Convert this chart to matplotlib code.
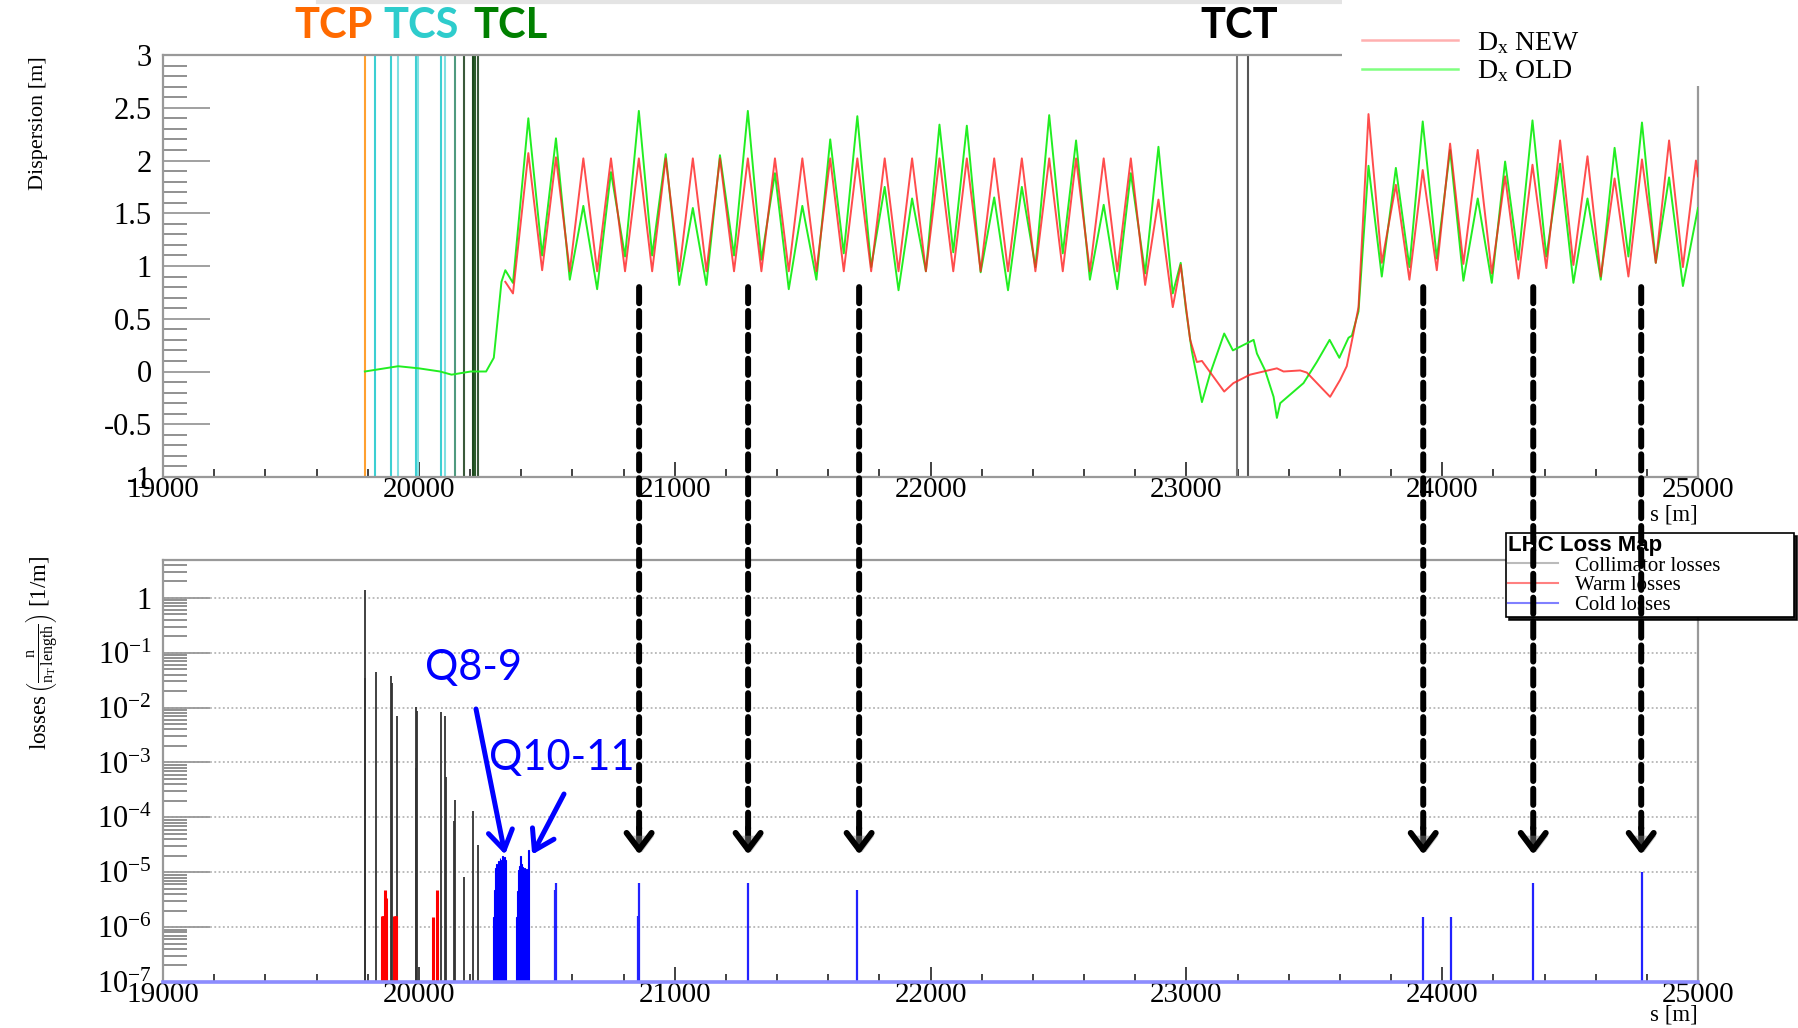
import matplotlib
matplotlib.use("Agg")
import math
import matplotlib.pyplot as plt
from matplotlib.patches import Rectangle, ConnectionPatch
from matplotlib.lines import Line2D
from matplotlib.ticker import MultipleLocator, LogLocator, FuncFormatter, NullFormatter
import matplotlib.patheffects as pe

plt.rcParams['font.family'] = ['Liberation Serif', 'DejaVu Serif']
plt.rcParams['mathtext.fontset'] = 'custom'
plt.rcParams['mathtext.rm'] = 'Liberation Serif'
plt.rcParams['mathtext.it'] = 'Liberation Serif:italic'
plt.rcParams['mathtext.bf'] = 'Liberation Serif:bold'

# ---------------- data: dispersion (top panel) ----------------
s_new = [20338, 20368, 20428, 20482, 20536, 20590, 20643, 20697, 20751, 20806,
         20860, 20912, 20965, 21018, 21071, 21124, 21177, 21232, 21286, 21339,
         21392, 21446, 21499, 21554, 21608, 21661, 21714, 21768, 21821, 21875,
         21928, 21982, 22035, 22089, 22142, 22196, 22249, 22303, 22357, 22410,
         22464, 22517, 22569, 22623, 22677, 22730, 22783, 22839, 22891, 22947,
         22978, 22995, 23015, 23041, 23061, 23148, 23184, 23249, 23354, 23380,
         23445, 23471, 23562, 23601, 23627, 23653, 23673, 23712, 23764, 23819,
         23872, 23924, 23979, 24031, 24083, 24139, 24194, 24246, 24298, 24353,
         24407, 24461, 24513, 24568, 24620, 24674, 24728, 24781, 24835, 24887,
         24941, 24992, 25000]
d_new = [0.85, 0.74, 2.07, 0.96, 2.03, 0.95, 2.02, 0.95, 2.02, 0.95,
         2.02, 0.95, 2.02, 0.95, 2.02, 0.95, 2.02, 0.95, 2.02, 0.95,
         2.02, 0.95, 2.02, 0.95, 2.02, 0.95, 2.02, 0.95, 2.02, 0.95,
         2.02, 0.95, 2.02, 0.95, 2.02, 0.95, 2.02, 0.95, 2.02, 0.95,
         2.02, 0.95, 2.02, 0.95, 2.02, 0.95, 2.02, 0.82, 1.63, 0.61,
         1.01, 0.68, 0.30, 0.09, 0.10, -0.19, -0.11, -0.03, 0.03, 0.00,
         0.01, -0.01, -0.24, -0.08, 0.05, 0.36, 0.61, 2.44, 1.03, 1.77,
         0.87, 1.91, 0.96, 2.16, 1.02, 2.10, 0.93, 1.85, 0.88, 1.96,
         0.98, 2.19, 1.01, 2.04, 0.90, 1.83, 0.90, 2.01, 1.03, 2.19,
         0.99, 2.00, 1.85]

s_old = [19789, 19919, 20000, 20083, 20128, 20203, 20263, 20293, 20323, 20338,
         20368, 20428, 20482, 20536, 20590, 20643, 20697, 20751, 20806, 20860,
         20912, 20965, 21018, 21071, 21124, 21177, 21232, 21286, 21339, 21392,
         21446, 21499, 21554, 21608, 21661, 21714, 21768, 21821, 21875, 21928,
         21982, 22035, 22089, 22142, 22196, 22249, 22303, 22357, 22410, 22464,
         22517, 22569, 22623, 22677, 22730, 22783, 22839, 22891, 22947, 22978,
         22998, 23021, 23061, 23093, 23148, 23182, 23263, 23276, 23308, 23341,
         23354, 23367, 23458, 23510, 23560, 23598, 23634, 23647, 23673, 23712,
         23764, 23819, 23872, 23924, 23979, 24031, 24083, 24139, 24194, 24246,
         24298, 24353, 24407, 24461, 24513, 24568, 24620, 24674, 24728, 24781,
         24835, 24887, 24941, 25000]
d_old = [0.00, 0.05, 0.03, 0.00, -0.03, 0.00, 0.00, 0.13, 0.85, 0.96,
         0.84, 2.40, 1.10, 2.21, 0.87, 1.57, 0.78, 1.89, 1.09, 2.47,
         1.10, 2.06, 0.82, 1.55, 0.82, 2.05, 1.10, 2.47, 1.06, 1.88,
         0.78, 1.57, 0.87, 2.20, 1.12, 2.42, 0.99, 1.75, 0.77, 1.64,
         0.95, 2.34, 1.13, 2.33, 0.94, 1.65, 0.77, 1.75, 0.99, 2.43,
         1.12, 2.19, 0.87, 1.58, 0.78, 1.88, 0.93, 2.13, 0.74, 1.03,
         0.60, 0.20, -0.29, -0.02, 0.36, 0.20, 0.30, 0.17, 0.01, -0.24,
         -0.44, -0.30, -0.11, 0.09, 0.30, 0.13, 0.32, 0.34, 0.57, 1.95,
         0.90, 1.93, 0.99, 2.37, 1.07, 2.10, 0.86, 1.64, 0.84, 1.99,
         1.06, 2.38, 1.09, 1.97, 0.84, 1.64, 0.87, 2.12, 1.09, 2.36,
         1.03, 1.84, 0.81, 1.55]

# collimator positions drawn in the top panel
coll_pos = [19789, 19829, 19891, 19918, 19987, 19995, 20087, 20102, 20143,
            20176, 20210, 20218, 20230, 23197, 23242]
coll_col = ['#ffa030', '#3ccfd2', '#3ccfd2', '#7fe0e2', '#3ccfd2', '#7fe0e2',
            '#3ccfd2', '#7fe0e2', '#4f9a7f', '#3a5a3a', '#1e4a1e', '#2a5a2a',
            '#3a5a3a', '#777777', '#555555']

# ---------------- data: loss map (bottom panel) ----------------
coll_s = [19788, 19790, 19831, 19891, 19897, 19915, 19987, 19989, 19994, 20087,
          20101, 20106, 20137, 20141, 20176, 20212, 20231]
coll_v = [1.38, 0.035, 0.044, 0.037, 0.028, 0.0071, 0.0102, 0.00079, 0.0085, 0.0084,
          0.0071, 0.00055, 8.7e-5, 2.1e-4, 8.1e-6, 1.3e-4, 3.1e-5]

warm_s = [19855, 19858, 19861, 19864, 19866, 19868, 19870, 19872, 19903, 19906,
          19909, 19912, 20057, 20072]
warm_v = [1.6e-6, 1.6e-6, 1.6e-6, 1.6e-6, 4.7e-6, 1.6e-6, 1.6e-6, 3.4e-6, 1.6e-6, 1.6e-6,
          1.6e-6, 1.6e-6, 1.55e-6, 4.7e-6]

q89_s = [20291, 20294.5, 20298, 20301.5, 20305, 20308.5, 20312, 20315.5, 20319, 20322.5,
         20326, 20329.5, 20333, 20336.5]
q89_v = [1.5e-6, 4.7e-6, 1.2e-5, 1.4e-5, 1.3e-5, 1.6e-5, 1.4e-5, 1.8e-5, 1.5e-5, 1.7e-5,
         2.0e-5, 1.6e-5, 1.9e-5, 1.7e-5]
q1011_s = [20380, 20383.6, 20387.2, 20390.8, 20394.4, 20398, 20401.6, 20405.2, 20408.8,
           20412.4, 20416, 20419.6, 20423.2, 20426.8]
q1011_v = [1.5e-6, 4.5e-6, 1.1e-5, 1.3e-5, 2.0e-5, 1.4e-5, 1.2e-5, 1.25e-5, 1.1e-5,
           1.2e-5, 1.0e-5, 1.15e-5, 1.1e-5, 2.5e-5]

cold_s = [20534, 20536, 20858, 20860, 21286, 21713, 23927, 24033, 24355, 24782]
cold_v = [4.7e-6, 6.3e-6, 1.6e-6, 6.5e-6, 6.3e-6, 4.8e-6, 1.5e-6, 1.5e-6, 6.5e-6, 1.0e-5]

arrow_s = [20861, 21287, 21721, 23926, 24356, 24778]

# ---------------- figure ----------------
W, H = 1799, 1028
fig = plt.figure(figsize=(W / 100, H / 100), dpi=100)


def fx(px):
    return px / W


def fy(py):
    return 1 - py / H


ax1 = fig.add_axes([fx(163), fy(477), fx(1698) - fx(163), fy(55) - fy(477)])
ax2 = fig.add_axes([fx(163), fy(982), fx(1698) - fx(163), fy(560) - fy(982)])

# --- top panel
for s, c in zip(coll_pos, coll_col):
    ax1.axvline(s, color=c, lw=1.5, zorder=2)
ax1.plot(s_old, d_old, color='#22ee22', lw=1.4, zorder=3)
ax1.plot(s_new, d_new, color='#ff2020', lw=1.4, alpha=0.8, zorder=4)

ax1.set_xlim(19000, 25000)
ax1.set_ylim(-1, 3)
ax1.xaxis.set_major_locator(MultipleLocator(1000))
ax1.xaxis.set_minor_locator(MultipleLocator(200))
ax1.yaxis.set_major_locator(MultipleLocator(0.5))
ax1.yaxis.set_minor_locator(MultipleLocator(0.1))
ax1.yaxis.set_major_formatter(FuncFormatter(lambda v, p: '%g' % v))
ax1.xaxis.set_major_formatter(FuncFormatter(lambda v, p: '%d' % v))

# --- bottom panel
ax2.set_yscale('log')
ax2.set_xlim(19000, 25000)
ax2.set_ylim(1e-7, 4.9)
ax2.vlines(coll_s, 1e-7, coll_v, color='#333333', lw=1.3, zorder=3)
ax2.vlines(warm_s, 1e-7, warm_v, color='#ff0000', lw=2.2, zorder=3)
ax2.bar(q89_s, [v - 1e-7 for v in q89_v], width=3.6, bottom=1e-7, align='edge',
        color='#0000ff', edgecolor='#0000ff', lw=0.8, zorder=3)
ax2.bar(q1011_s, [v - 1e-7 for v in q1011_v], width=3.7, bottom=1e-7, align='edge',
        color='#0000ff', edgecolor='#0000ff', lw=0.8, zorder=3)
ax2.vlines(cold_s, 1e-7, cold_v, color='#2222ff', lw=1.6, zorder=3)
ax2.axhline(1e-7, color='#8c8cff', lw=2.6, zorder=4, clip_on=False)

ax2.xaxis.set_major_locator(MultipleLocator(1000))
ax2.xaxis.set_minor_locator(MultipleLocator(200))
ax2.xaxis.set_major_formatter(FuncFormatter(lambda v, p: '%d' % v))
ax2.yaxis.set_major_locator(LogLocator(base=10, numticks=20))
ax2.yaxis.set_minor_locator(LogLocator(base=10, subs=range(2, 10), numticks=20))
ax2.yaxis.set_minor_formatter(NullFormatter())
ax2.yaxis.set_major_formatter(FuncFormatter(
    lambda v, p: '1' if abs(v - 1) < 1e-9 else r'$\mathregular{10^{%d}}$' % round(math.log10(v))))
ax2.grid(axis='y', which='major', linestyle=(0, (1.2, 1.6)), color='#aaaaaa', lw=1.1)

for ax in (ax1, ax2):
    ax.tick_params(axis='y', which='major', direction='in', length=34, width=1.3,
                   color='#999999', labelsize=22, pad=8, right=False)
    ax.tick_params(axis='y', which='minor', direction='in', length=17, width=1.3,
                   color='#888888', right=False)
    ax.tick_params(axis='x', which='major', direction='in', length=11, width=1.3,
                   color='#333333', labelsize=21, pad=0, top=False)
    ax.tick_params(axis='x', which='minor', direction='in', length=6, width=1.3,
                   color='#333333', top=False)
    for sp in ax.spines.values():
        sp.set_color('#999999')
        sp.set_linewidth(1.6)

# axis titles
fig.text(fx(38), fy(56), 'Dispersion [m]', rotation=90, ha='center', va='top', fontsize=16)
fig.text(fx(42), fy(556),
         r'losses$\,\left(\frac{\mathregular{n}}{\mathregular{n_{T}\,length}}\right)$ [1/m]',
         rotation=90, ha='center', va='top', fontsize=16.5)
fig.text(fx(1698), fy(504), 's [m]', ha='right', va='top', fontsize=16.5)
fig.text(fx(1698), fy(1005), 's [m]', ha='right', va='top', fontsize=16.5)

# faint slide shadow at the very top
fig.add_artist(Line2D([fx(318), fx(1553)], [fy(2), fy(2)], transform=fig.transFigure,
                      color='#e4e4e4', lw=3, zorder=1))

# white area behind the top legend (covers the frame corner)
fig.add_artist(Rectangle((fx(1342), fy(86)), 1 - fx(1342), fy(0) - fy(86),
                         transform=fig.transFigure, facecolor='white',
                         edgecolor='none', zorder=4))

leg1 = fig.legend(handles=[Line2D([], [], color='#ffb0b0', lw=1.8),
                           Line2D([], [], color='#80ff80', lw=1.8)],
                  labels=[r'D$_{\mathregular{x}}$ NEW', r'D$_{\mathregular{x}}$ OLD'],
                  loc='upper left', bbox_to_anchor=(fx(1362), fy(30)), frameon=False,
                  fontsize=20, handlelength=3.45, handletextpad=0.7, labelspacing=0.1,
                  borderpad=0, borderaxespad=0)
leg1.set_zorder(6)

leg2 = fig.legend(handles=[Line2D([], [], color='#bbbbbb', lw=1.5),
                           Line2D([], [], color='#ff8080', lw=1.5),
                           Line2D([], [], color='#8080ff', lw=1.5)],
                  labels=['Collimator losses', 'Warm losses', 'Cold losses'],
                  title='LHC Loss Map', loc='upper left',
                  bbox_to_anchor=(fx(1506), fy(612), fx(1794) - fx(1506), fy(533) - fy(612)),
                  mode='expand', frameon=True, fancybox=False,
                  edgecolor='black', facecolor='white', framealpha=1,
                  shadow={'color': 'black', 'alpha': 0.9},
                  fontsize=15, title_fontproperties={'family': 'Liberation Sans',
                                                     'weight': 'bold', 'size': 16},
                  handlelength=2.4, labelspacing=0.0, borderpad=0.1,
                  borderaxespad=0, alignment='left')
leg2.get_frame().set_linewidth(1.2)
leg2.set_zorder(7)

# collimator family labels
sans = ['Lato', 'DejaVu Sans']
fig.text(fx(334), fy(26), 'TCP', color='#ff6a00', fontsize=30, weight='bold',
         family=sans, ha='center', va='center')
fig.text(fx(421), fy(26), 'TCS', color='#2ecccc', fontsize=30, weight='bold',
         family=sans, ha='center', va='center')
fig.text(fx(511), fy(26), 'TCL', color='#008000', fontsize=30, weight='bold',
         family=sans, ha='center', va='center')
fig.text(fx(1239), fy(26), 'TCT', color='black', fontsize=30, weight='bold',
         family=sans, ha='center', va='center')

# Q8-9 and Q10-11 annotations
fig.text(fx(474), fy(668), 'Q8-9', color='#0000ff', fontsize=30, family=sans,
         ha='center', va='center')
fig.text(fx(562), fy(758), 'Q10-11', color='#0000ff', fontsize=30, family=sans,
         ha='center', va='center')
for (xt, yt), tip in [((476, 709), 20337), ((564, 794), 20443)]:
    ax2.annotate('', xy=(tip, 2.1e-5), xycoords='data',
                 xytext=(fx(xt), fy(yt)), textcoords='figure fraction',
                 arrowprops=dict(arrowstyle='->,head_length=0.55,head_width=0.35',
                                 color='#0000ff', lw=3.6, mutation_scale=25,
                                 shrinkA=0, shrinkB=0),
                 annotation_clip=False)

# dashed black arrows from the dispersion minima to the loss spikes
shadow = [pe.SimplePatchShadow(offset=(2, -2), shadow_rgbFace='#888888', alpha=0.45),
          pe.Normal()]
for s in arrow_s:
    ln = ConnectionPatch(xyA=(s, 0.80), coordsA=ax1.transData,
                         xyB=(s, 5.5e-5), coordsB=ax2.transData,
                         color='black', lw=4.3, linestyle=(0, (2.7, 1.3)),
                         zorder=20)
    ln.set_path_effects(shadow)
    fig.add_artist(ln)
    hd = ConnectionPatch(xyA=(s, 6.5e-5), coordsA=ax2.transData,
                         xyB=(s, 2.1e-5), coordsB=ax2.transData,
                         arrowstyle='->,head_length=0.6,head_width=0.45',
                         mutation_scale=20, color='black', lw=4.3, zorder=20)
    hd.set_path_effects(shadow)
    fig.add_artist(hd)

fig.savefig('out.png', dpi=100)
